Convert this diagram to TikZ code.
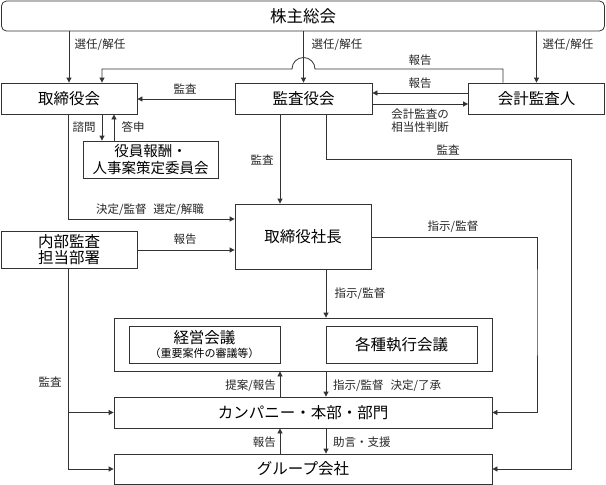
\documentclass[tikz,border=0pt]{standalone}
\usepackage{fontspec}
\setmainfont{Noto Sans CJK JP}
\usetikzlibrary{arrows.meta,calc}
\begin{document}
\begin{tikzpicture}[x=1pt,y=-1pt,
  box/.style={draw=black!80,line width=0.8pt,fill=white,inner sep=0pt,align=center,
    font=\fontsize{15.5}{17}\selectfont},
  lbl/.style={inner sep=0pt,font=\fontsize{11.5}{13}\selectfont,text=black!85},
  ln/.style={draw=black!80,line width=0.8pt},
  arr/.style={ln,-{Triangle[length=5pt,width=5pt]}}]
\useasboundingbox (0,0) rectangle (606,485);
% boxes
\node[box,rounded corners=5pt,minimum width=603pt,minimum height=30pt,font=\fontsize{16.5}{18}\selectfont] (sh) at (303,16) {株主総会};
\node[box,minimum width=136pt,minimum height=31pt] (tb) at (69,98.5) {取締役会};
\node[box,minimum width=137pt,minimum height=31pt] (ka) at (303.5,98.5) {監査役会};
\node[box,minimum width=136pt,minimum height=31pt] (kk) at (536.5,98.5) {会計監査人};
\node[box,minimum width=135pt,minimum height=37pt,font=\fontsize{14.5}{16.5}\selectfont] (iin) at (150.5,159.5) {役員報酬・\\人事案策定委員会};
\node[box,minimum width=136pt,minimum height=65pt] (sc) at (303,236.5) {取締役社長};
\node[box,minimum width=136pt,minimum height=37pt,font=\fontsize{15.5}{15.5}\selectfont] (nb) at (69,249.5) {内部監査\\担当部署};
\node[box,minimum width=378pt,minimum height=53pt] (big) at (303,344.5) {};
\node[box,minimum width=151pt,minimum height=37pt] (kei) at (204.5,344.5) {経営会議\\[-3pt]{\fontsize{11}{12}\selectfont（重要案件の審議等）}};
\node[box,minimum width=151pt,minimum height=37pt] (kak) at (401.5,344.5) {各種執行会議};
\node[box,minimum width=378pt,minimum height=31pt] (cp) at (303,412.5) {カンパニー・本部・部門};
\node[box,minimum width=378pt,minimum height=30pt] (gr) at (303,469) {グループ会社};
% coordinates
\coordinate (hr) at (315,69);
\coordinate (hl) at (292,69);
% connectors from shareholders
\draw[arr] (sh.south -| tb.north) -- (tb.north);
\draw[arr] (sh.south -| ka.north) -- (ka.north);
\draw[arr] (sh.south -| kk.north) -- (kk.north);
\node[lbl] (l1) at (100,45) {選任/解任};
\node[lbl] (l2) at (337,45) {選任/解任};
\node[lbl] (l3) at (568,45) {選任/解任};
% report with hop
\draw[arr] (kk.north -| 503,0) -- (hr -| 503,0) -- (hr) arc[start angle=0,end angle=180,radius=11.5pt] -- (hl -| 102,0) -- (tb.north -| 102,0);
\node[lbl] (l4) at (420,60) {報告};
\draw[arr] (kk.west |- 0,93) -- (ka.east |- 0,93);
\node[lbl] (l5) at (420,83) {報告};
\draw[arr] (ka.east |- 0,104) -- (kk.west |- 0,104);
\node[lbl,align=center,font=\fontsize{11.5}{13}\selectfont] (l6) at (420,121) {会計監査の\\相当性判断};
\draw[arr] (ka.west |- 0,99) -- (tb.east |- 0,99);
\node[lbl] (l7) at (185,89) {監査};
% audit board downward
\draw[arr] (ka.south -| 280,0) -- (sc.north -| 280,0);
\node[lbl] (l8) at (262,160) {監査};
\draw[arr] (ka.south -| 326,0) |- (571,159) |- (gr.east);
\node[lbl] (l9) at (448,150) {監査};
% board downward
\draw[arr] (tb.south -| 68,0) |- (sc.west |- 0,219);
\node[lbl] (l10) at (150,210) {決定/監督\hspace{0.6em}選定/解職};
\draw[arr] (tb.south -| 102,0) -- (iin.north -| 102,0);
\node[lbl] (l11) at (84,127) {諮問};
\draw[arr] (iin.north -| 114,0) -- (tb.south -| 114,0);
\node[lbl] (l12) at (133,127) {答申};
% internal audit
\draw[arr] (nb.east |- 0,250) -- (sc.west |- 0,250);
\node[lbl] (l13) at (185,239) {報告};
\draw[arr] (nb.south -| 68,0) |- (gr.west);
\draw[arr] (cp.west -| 68,0) -- (cp.west);
\node[lbl] (l14) at (50,382) {監査};
% president
\draw[arr] (sc.east |- 0,237) -| (537,300) |- (cp.east);
\node[lbl] (l15) at (453,227) {指示/監督};
\draw[arr] (sc.south -| 326,0) -- (big.north -| 326,0);
\node[lbl] (l16) at (360,294) {指示/監督};
% lower
\draw[arr] (cp.north -| 280,0) -- (big.south -| 280,0);
\node[lbl,anchor=east] (l17) at (276,386) {提案/報告};
\draw[arr] (big.south -| 326,0) -- (cp.north -| 326,0);
\node[lbl,anchor=west] (l18) at (333,386) {指示/監督\hspace{0.6em}決定/了承};
\draw[arr] (gr.north -| 280,0) -- (cp.south -| 280,0);
\node[lbl,anchor=east] (l19) at (276,442) {報告};
\draw[arr] (cp.south -| 326,0) -- (gr.north -| 326,0);
\node[lbl,anchor=west] (l20) at (333,442) {助言・支援};
\end{tikzpicture}
\end{document}
